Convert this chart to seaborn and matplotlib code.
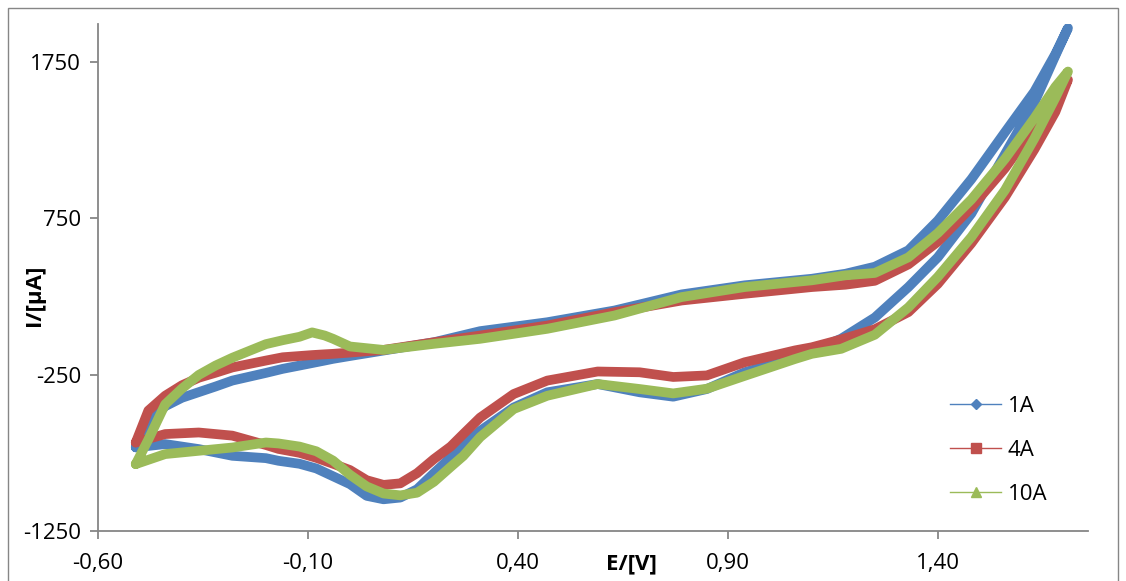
import matplotlib
matplotlib.use("Agg")
import matplotlib.pyplot as plt
from matplotlib.lines import Line2D
from matplotlib.patches import Rectangle
import seaborn as sb
import pandas as pd

# cyclic voltammograms, values
# forward (anodic) scan, left to right
e_fwd = [-0.51, -0.48, -0.44, -0.40, -0.36, -0.32, -0.28, -0.20, -0.16, -0.12, -0.09,
         -0.06, -0.04, 0.00, 0.08, 0.20, 0.31, 0.47, 0.63, 0.79, 0.94, 1.10, 1.18,
         1.25, 1.33, 1.40, 1.48, 1.56, 1.63, 1.68, 1.71]
i_fwd_1a = [-715, -560, -452, -398, -362, -326, -288, -239, -213, -192, -176,
            -160, -149, -131, -96, -43, 28, 85, 160, 263, 321, 363, 395,
            440, 545, 735, 1000, 1300, 1560, 1800, 1966]
i_fwd_4a = [-684, -480, -385, -318, -270, -238, -204, -160, -139, -131, -125,
            -120, -117, -109, -92, -43, 0, 64, 149, 224, 267, 310, 325,
            350, 455, 600, 820, 1070, 1330, 1525, 1635]
i_fwd_10a = [-822, -665, -440, -339, -252, -192, -142, -55, -30, -8, 20,
             0, -21, -70, -92, -53, -21, 43, 128, 246, 310, 353, 385,
             400, 500, 655, 870, 1130, 1390, 1590, 1688]

# reverse (cathodic) scan, right to left
e_rev = [1.71, 1.68, 1.63, 1.56, 1.48, 1.40, 1.33, 1.25, 1.17, 1.10, 1.06, 0.94,
         0.85, 0.77, 0.69, 0.59, 0.47, 0.39, 0.31, 0.27, 0.24, 0.20, 0.16, 0.12,
         0.08, 0.04, 0.00, -0.04, -0.08, -0.12, -0.17, -0.20, -0.28, -0.36, -0.44, -0.51]
i_rev_1a = [1966, 1790, 1490, 1160, 780, 500, 310, 115, -20, -100, -139, -235,
            -342, -391, -363, -310, -363, -460, -610, -700, -780, -880, -983, -1036,
            -1047, -1025, -950, -900, -850, -820, -801, -784, -769, -726, -694, -715]
i_rev_4a = [1635, 1430, 1190, 885, 590, 330, 150, 40, -25, -75, -95, -171,
            -255, -265, -235, -230, -288, -374, -525, -630, -710, -790, -880, -945,
            -955, -925, -860, -820, -782, -750, -725, -700, -640, -620, -630, -684]
i_rev_10a = [1688, 1520, 1260, 930, 630, 375, 180, 5, -85, -117, -150, -258,
             -340, -370, -342, -310, -385, -470, -650, -770, -840, -935, -1005, -1022,
             -1010, -965, -890, -800, -740, -710, -690, -684, -716, -737, -758, -822]

series_names = ["1A", "4A", "10A"]
series_colors = ["#4F81BD", "#C0504D", "#9BBB59"]
series_markers = ["D", "s", "^"]

x_ticks = [-0.60, -0.10, 0.40, 0.90, 1.40]
x_tick_labels = ["-0,60", "-0,10", "0,40", "0,90", "1,40"]
y_ticks = [-1250, -250, 750, 1750]
y_tick_labels = ["-1250", "-250", "750", "1750"]

plt.rcParams['font.family'] = ['Open Sans', 'DejaVu Sans']
fs = 16

# one long table with the closed loops
frames = []
fwd = [i_fwd_1a, i_fwd_4a, i_fwd_10a]
rev = [i_rev_1a, i_rev_4a, i_rev_10a]
for name, f, r in zip(series_names, fwd, rev):
    e = e_fwd + e_rev[1:]
    cur = f + r[1:]
    frames.append(pd.DataFrame({"E": e, "I": cur, "series": name}))
cv = pd.concat(frames, ignore_index=True)

fig = plt.figure(figsize=(11.26, 5.81), dpi=100)
ax = fig.add_axes([0.087, 0.086, 0.879, 0.873])

for name, col in zip(series_names, series_colors):
    part = cv[cv["series"] == name]
    sb.lineplot(data=part, x="E", y="I", sort=False, estimator=None, color=col,
                lw=7, solid_joinstyle="round", solid_capstyle="round", ax=ax)

ax.set_xlim(-0.60, 1.757)
ax.set_ylim(-1250, 1993)

ax.set_xticks(x_ticks)
ax.set_xticklabels(x_tick_labels)
ax.set_yticks(y_ticks)
ax.set_yticklabels(y_tick_labels)
ax.tick_params(axis="both", direction="out", length=6, width=1.3, color="#868686",
               labelsize=fs, labelcolor="black")
ax.tick_params(axis="x", pad=10)
ax.tick_params(axis="y", pad=6)

for side in ["top", "right"]:
    ax.spines[side].set_visible(False)
for side in ["left", "bottom"]:
    ax.spines[side].set_color("#868686")
    ax.spines[side].set_linewidth(1.3)

ax.set_xlabel("E/[V]", fontsize=fs, fontweight="bold")
ax.xaxis.set_label_coords(0.539, -0.045)
ax.set_ylabel("I/[µA]", fontsize=fs, fontweight="bold")
ax.yaxis.set_label_coords(-0.054, 0.465)

handles = [Line2D([0], [0], color=c, lw=1, marker=m, ms=7 if m != "D" else 5,
                  markerfacecolor=c, markeredgecolor=c)
           for c, m in zip(series_colors, series_markers)]
ax.legend(handles, series_names, loc="upper left", bbox_to_anchor=(0.861, 0.267),
          frameon=False, fontsize=fs, handlelength=2.3, handletextpad=0.3,
          labelspacing=1.05, borderpad=0, borderaxespad=0)

# outer chart border
fig.patches.append(Rectangle((0.007, -0.02), 0.986, 1.006, transform=fig.transFigure,
                             fill=False, edgecolor="#868686", lw=1))

fig.savefig("out.png", dpi=100)
